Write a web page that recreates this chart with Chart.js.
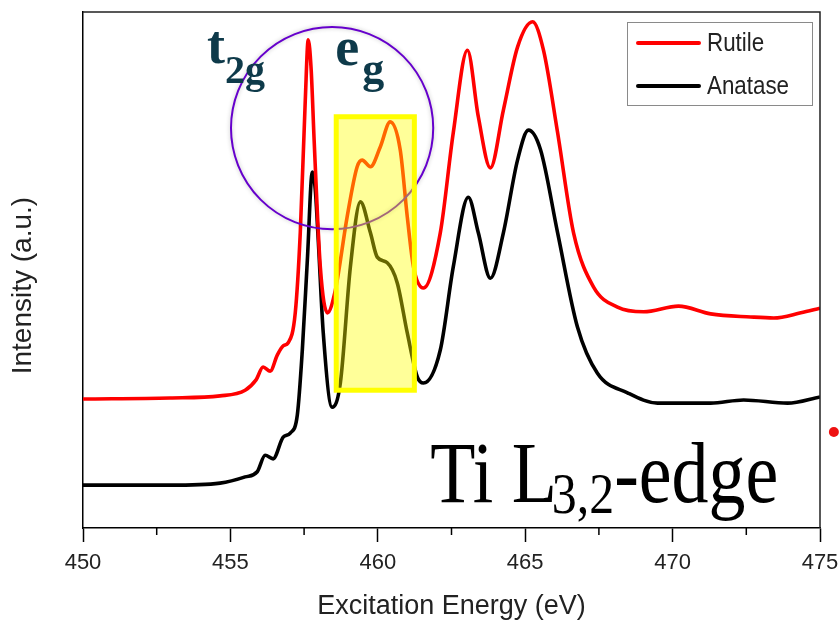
<!DOCTYPE html>
<html>
<head>
<meta charset="utf-8">
<script src="https://cdn.jsdelivr.net/npm/chart.js@4.4.1/dist/chart.umd.min.js"></script>
<style>
  body { margin: 0; background: #fff; }
  #wrap { width: 839px; height: 623px; position: relative; }
</style>
</head>
<body>
<div id="wrap"><canvas id="xasChart"></canvas></div>
<script>
// Ti L-edge spectra (intensity in arbitrary units, 0..100)
const rutileEnergy = [450.0, 452.95, 454.65, 455.5, 455.87, 456.11, 456.35, 456.59, 456.79, 456.96,
  457.2, 457.37, 457.54, 457.64, 457.74, 457.84, 458.05, 458.29, 458.56, 458.96,
  459.3, 459.47, 459.75, 460.08, 460.42, 460.76, 461.0, 461.21, 461.55, 462.12,
  462.56, 463.04, 463.41, 463.82, 464.26, 464.74, 465.25, 465.62, 466.1, 466.64,
  467.32, 468.13, 469.02, 470.2, 471.29, 472.65, 473.43, 474.35, 475.0];
const rutileIntensity = [25.0, 25.2, 25.6, 26.7, 28.7, 31.2, 30.4, 33.5, 35.3, 35.9,
  41.7, 57.2, 82.9, 94.6, 88.8, 75.2, 50.6, 41.7, 46.1, 60.3,
  70.0, 71.3, 70.0, 73.8, 78.7, 73.3, 60.3, 50.6, 46.5, 57.2,
  76.6, 92.6, 79.7, 69.8, 81.0, 93.2, 98.1, 92.6, 76.6, 57.2,
  46.7, 42.8, 41.9, 43.0, 41.5, 40.9, 40.7, 41.7, 42.6];

const anataseEnergy = [450.0, 452.95, 454.65, 455.5, 455.91, 456.18, 456.45, 456.79, 457.03, 457.27,
  457.44, 457.61, 457.78, 457.88, 457.98, 458.15, 458.45, 458.73, 459.07, 459.41,
  459.75, 459.98, 460.32, 460.66, 461.0, 461.34, 461.55, 462.12, 462.56, 463.07,
  463.41, 463.82, 464.26, 464.74, 465.11, 465.52, 466.1, 466.77, 467.45, 468.47,
  469.49, 471.29, 472.41, 473.9, 475.0];
const anataseIntensity = [8.3, 8.3, 8.7, 9.9, 10.9, 14.1, 13.4, 17.6, 18.4, 21.9,
  34.5, 51.9, 69.0, 65.5, 55.8, 37.8, 23.4, 28.1, 50.6, 63.2,
  57.2, 52.5, 51.4, 47.5, 37.8, 29.3, 28.1, 34.5, 50.6, 64.1,
  57.2, 48.4, 57.2, 71.3, 77.1, 73.3, 57.2, 39.0, 30.0, 26.2,
  24.2, 24.2, 24.8, 24.2, 25.4];

const seriesLabels = ["Rutile", "Anatase"];
const seriesColors = ["#ff0000", "#000000"];
const xTicks = [450, 455, 460, 465, 470, 475];

// annotation anchors (data units)
const egBox = [458.59, 461.24, 26.7, 79.7];   // x0, x1, y0, y1
const circleCenter = [458.45, 77.5];
const circleRadius = 3.43;                    // in eV
const t2gPos = [454.21, 90.1];
const egPos = [458.56, 89.7];
const edgePos = [461.78, 5.0];
const redDot = [475.47, 18.6];

function toPoints(xs, ys) {
  return xs.map((v, i) => ({ x: v, y: ys[i] }));
}

const extras = {
  id: "extras",
  afterDatasetsDraw(chart) {
    const { ctx, scales: { x, y }, chartArea: a } = chart;
    ctx.save();

    // frame (top and right)
    ctx.strokeStyle = "#222";
    ctx.lineWidth = 1.5;
    ctx.beginPath();
    ctx.moveTo(a.left, a.top);
    ctx.lineTo(a.right, a.top);
    ctx.lineTo(a.right, a.bottom);
    ctx.stroke();

    // minor ticks
    ctx.strokeStyle = "#000";
    for (let v = 452.5; v < 475; v += 5) {
      const px = x.getPixelForValue(v);
      ctx.beginPath();
      ctx.moveTo(px, a.bottom);
      ctx.lineTo(px, a.bottom + 7);
      ctx.stroke();
    }

    // circle around t2g / eg
    const cx = x.getPixelForValue(circleCenter[0]);
    const cy = y.getPixelForValue(circleCenter[1]);
    const r = x.getPixelForValue(circleCenter[0] + circleRadius) - cx;
    ctx.shadowColor = "rgba(0,0,0,0.25)";
    ctx.shadowBlur = 4;
    ctx.strokeStyle = "#6600cc";
    ctx.lineWidth = 2;
    ctx.beginPath();
    ctx.arc(cx, cy, r, 0, Math.PI * 2);
    ctx.stroke();
    ctx.shadowBlur = 0;
    ctx.shadowColor = "transparent";

    // highlighted eg box
    const bx0 = x.getPixelForValue(egBox[0]);
    const bx1 = x.getPixelForValue(egBox[1]);
    const by0 = y.getPixelForValue(egBox[3]);
    const by1 = y.getPixelForValue(egBox[2]);
    ctx.fillStyle = "rgba(255,255,0,0.4)";
    ctx.fillRect(bx0, by0, bx1 - bx0, by1 - by0);
    ctx.strokeStyle = "#ffff00";
    ctx.lineWidth = 5;
    ctx.strokeRect(bx0, by0, bx1 - bx0, by1 - by0);

    // t2g and eg labels
    ctx.fillStyle = "#0e3a4a";
    ctx.textBaseline = "alphabetic";
    let tx = x.getPixelForValue(t2gPos[0]);
    let ty = y.getPixelForValue(t2gPos[1]);
    ctx.font = "bold 54px 'Liberation Serif'";
    ctx.fillText("t", tx, ty);
    tx += ctx.measureText("t").width;
    ctx.font = "bold 40px 'Liberation Serif'";
    ctx.fillText("2g", tx, ty + 20);

    tx = x.getPixelForValue(egPos[0]);
    ty = y.getPixelForValue(egPos[1]);
    ctx.font = "bold 54px 'Liberation Serif'";
    ctx.fillText("e", tx, ty);
    tx += ctx.measureText("e").width + 3;
    ctx.font = "bold 44px 'Liberation Serif'";
    ctx.fillText("g", tx, ty + 18);

    // Ti L3,2-edge, squeezed to the width seen in the picture
    const ex = x.getPixelForValue(edgePos[0]);
    const ey = y.getPixelForValue(edgePos[1]);
    const big = "86px 'Liberation Serif'";
    const small = "58px 'Liberation Serif'";
    ctx.font = big;
    const w1 = ctx.measureText("Ti L").width;
    const w3 = ctx.measureText("-edge").width;
    ctx.font = small;
    const w2 = ctx.measureText("3,2").width;
    const scaleX = 348 / (w1 + w2 + w3 - 6);
    ctx.translate(ex, ey);
    ctx.scale(scaleX, 1);
    ctx.fillStyle = "#000";
    ctx.font = big;
    ctx.fillText("Ti L", 0, 0);
    ctx.font = small;
    ctx.fillText("3,2", w1 - 6, 11);
    ctx.font = big;
    ctx.fillText("-edge", w1 - 6 + w2, 0);
    ctx.setTransform(1, 0, 0, 1, 0, 0);

    // stray red dot at the right edge
    ctx.fillStyle = "#ee1111";
    ctx.beginPath();
    ctx.arc(x.getPixelForValue(redDot[0]), y.getPixelForValue(redDot[1]), 5, 0, Math.PI * 2);
    ctx.fill();

    // legend box
    const lx = 627, ly = 22, lw = 185, lh = 83;
    ctx.fillStyle = "#fff";
    ctx.fillRect(lx, ly, lw, lh);
    ctx.strokeStyle = "#8a8a8a";
    ctx.lineWidth = 1;
    ctx.strokeRect(lx + 0.5, ly + 0.5, lw, lh);
    ctx.font = "26px 'Liberation Sans'";
    ctx.textBaseline = "middle";
    chart.data.datasets.forEach((ds, i) => {
      const yy = ly + 21 + i * 43;
      ctx.strokeStyle = ds.borderColor;
      ctx.lineWidth = 4;
      ctx.lineCap = "round";
      ctx.beginPath();
      ctx.moveTo(lx + 11, yy);
      ctx.lineTo(lx + 72, yy);
      ctx.stroke();
      ctx.fillStyle = "#222";
      ctx.save();
      ctx.translate(lx + 80, yy + 1);
      ctx.scale(0.86, 1);
      ctx.fillText(ds.label, 0, 0);
      ctx.restore();
    });

    ctx.restore();
  }
};

const ctx = document.getElementById("xasChart").getContext("2d");
new Chart(ctx, {
  type: "line",
  data: {
    datasets: [
      {
        label: seriesLabels[0],
        data: toPoints(rutileEnergy, rutileIntensity),
        borderColor: seriesColors[0],
        borderWidth: 3.6,
        pointRadius: 0,
        cubicInterpolationMode: "monotone",
        fill: false,
      },
      {
        label: seriesLabels[1],
        data: toPoints(anataseEnergy, anataseIntensity),
        borderColor: seriesColors[1],
        borderWidth: 3.6,
        pointRadius: 0,
        cubicInterpolationMode: "monotone",
        fill: false,
      },
    ],
  },
  options: {
    responsive: true,
    maintainAspectRatio: false,
    animation: false,
    layout: { padding: { top: 12, right: 19, left: 0, bottom: 0 } },
    plugins: {
      legend: { display: false },
      tooltip: { enabled: false },
    },
    scales: {
      x: {
        type: "linear",
        min: 450,
        max: 475,
        afterFit: (s) => { s.height = 95; s.paddingLeft = 0; s.paddingRight = 0; },
        afterBuildTicks: (s) => { s.ticks = xTicks.map((v) => ({ value: v })); },
        ticks: {
          autoSkip: false,
          maxRotation: 0,
          padding: 8,
          color: "#222",
          font: { family: "'Liberation Sans'", size: 22 },
        },
        grid: {
          drawOnChartArea: false,
          tickLength: 14,
          tickWidth: 1.5,
          tickColor: "#000",
        },
        border: { display: true, color: "#000", width: 1.5 },
        title: {
          display: true,
          text: "Excitation Energy (eV)",
          color: "#222",
          font: { family: "'Liberation Sans'", size: 27 },
          padding: { top: 4, bottom: 0 },
        },
      },
      y: {
        min: 0,
        max: 100,
        afterFit: (s) => { s.width = 83; },
        ticks: { display: false },
        grid: { display: false },
        border: { display: true, color: "#000", width: 1.5 },
        title: {
          display: true,
          text: "Intensity (a.u.)\u00a0\u00a0\u00a0\u00a0",
          color: "#222",
          font: { family: "'Liberation Sans'", size: 28 },
          padding: { top: 6, bottom: 0 },
        },
      },
    },
  },
  plugins: [extras],
});
</script>
</body>
</html>
